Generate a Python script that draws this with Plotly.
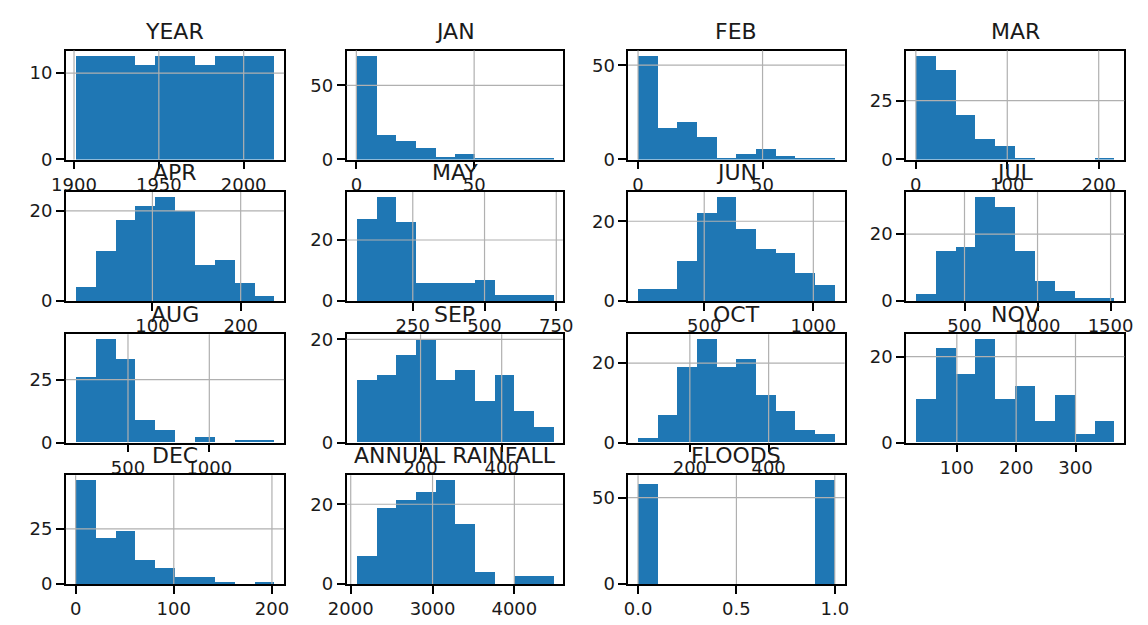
import numpy as np
import plotly.graph_objects as go

# ---- data (10 bins each) ----
columns = ["YEAR", "JAN", "FEB", "MAR", "APR", "MAY", "JUN", "JUL",
           "AUG", "SEP", "OCT", "NOV", "DEC", "ANNUAL RAINFALL", "FLOODS"]

data_min = [1901, 0.0, 0.0, 0.1, 13.1, 53.4, 196.8, 167.5,
            178.6, 41.7, 68.5, 31.1, 0.1, 2068.8, 0.0]
data_max = [2018, 83.5, 79.0, 217.2, 238.0, 738.8, 1098.2, 1526.5,
            1398.9, 526.7, 567.9, 365.6, 202.3, 4473.0, 1.0]

counts_year = [12, 12, 12, 11, 12, 12, 11, 12, 12, 12]
counts_jan = [70, 17, 13, 8, 2, 4, 1, 1, 1, 1]
counts_feb = [55, 17, 20, 12, 1, 3, 6, 2, 1, 1]
counts_mar = [44, 38, 19, 9, 6, 1, 0, 0, 0, 1]
counts_apr = [3, 11, 18, 21, 23, 20, 8, 9, 4, 1]
counts_may = [27, 34, 26, 6, 6, 6, 7, 2, 2, 2]
counts_jun = [3, 3, 10, 22, 26, 18, 13, 12, 7, 4]
counts_jul = [2, 15, 16, 31, 28, 15, 6, 3, 1, 1]
counts_aug = [26, 41, 33, 9, 5, 0, 2, 0, 1, 1]
counts_sep = [12, 13, 17, 20, 12, 14, 8, 13, 6, 3]
counts_oct = [1, 7, 19, 26, 19, 21, 12, 8, 3, 2]
counts_nov = [10, 22, 16, 24, 10, 13, 5, 11, 2, 5]
counts_dec = [47, 21, 24, 11, 7, 3, 3, 1, 0, 1]
counts_annual = [7, 19, 21, 23, 26, 15, 3, 0, 2, 2]
counts_floods = [58, 0, 0, 0, 0, 0, 0, 0, 0, 60]

all_counts = [counts_year, counts_jan, counts_feb, counts_mar, counts_apr,
              counts_may, counts_jun, counts_jul, counts_aug, counts_sep,
              counts_oct, counts_nov, counts_dec, counts_annual, counts_floods]

x_ticks = [[1900, 1950, 2000], [0, 50], [0, 50], [0, 100, 200], [100, 200],
           [250, 500, 750], [500, 1000], [500, 1000, 1500], [500, 1000],
           [200, 400], [200, 400], [100, 200, 300], [0, 100, 200],
           [2000, 3000, 4000], [0.0, 0.5, 1.0]]
x_ticktext = [[str(v) for v in t] for t in x_ticks]
x_ticktext[14] = ["0.0", "0.5", "1.0"]

y_ticks = [[0, 10], [0, 50], [0, 50], [0, 25], [0, 20], [0, 20], [0, 20],
           [0, 20], [0, 25], [0, 20], [0, 20], [0, 20], [0, 25], [0, 20],
           [0, 50]]

# ---- layout geometry (pixels in a 1148x625 page) ----
W, H = 1148, 625
col_px = [(48, 272), (336, 558), (625, 847), (910, 1134)]
row_px = [(46.7, 158.3), (191.7, 303.3), (337.3, 448.3), (481.7, 593.3)]

BLUE = "#1f77b4"
FONT = "DejaVu Sans"

fig = go.Figure()
shapes = []
annotations = []

for i, name in enumerate(columns):
    r, c = divmod(i, 4)
    ax = "" if i == 0 else str(i + 1)
    xa, ya = "x" + ax, "y" + ax
    edges = np.linspace(data_min[i], data_max[i], 11)
    centers = (edges[:-1] + edges[1:]) / 2
    widths = np.diff(edges)
    fig.add_trace(go.Bar(x=centers, y=all_counts[i], width=widths,
                         marker=dict(color=BLUE, line=dict(width=0)),
                         xaxis=xa, yaxis=ya, showlegend=False,
                         hoverinfo="x+y"))
    span = data_max[i] - data_min[i]
    xr = [data_min[i] - 0.05 * span, data_max[i] + 0.05 * span]
    yr = [0, 1.05 * max(all_counts[i])]
    x0, x1 = col_px[c]
    t0, t1 = row_px[r]
    common = dict(showline=True, mirror=True, linecolor="black", linewidth=1.5,
                  ticks="outside", ticklen=8, tickwidth=1.5, tickcolor="black",
                  showgrid=False, zeroline=False,
                  tickfont=dict(family=FONT, size=18, color="#1a1a1a"))
    fig.layout["xaxis" + ax] = dict(domain=[x0 / W, x1 / W], range=xr,
                                    anchor=ya, tickmode="array",
                                    tickvals=x_ticks[i], ticktext=x_ticktext[i],
                                    **common)
    fig.layout["yaxis" + ax] = dict(domain=[1 - t1 / H, 1 - t0 / H], range=yr,
                                    anchor=xa, tickmode="array",
                                    tickvals=y_ticks[i], **common)
    # grid lines drawn above bars (as matplotlib does)
    for v in x_ticks[i]:
        shapes.append(dict(type="line", xref=xa, yref=ya + " domain",
                           x0=v, x1=v, y0=0, y1=1, layer="above",
                           line=dict(color="#b0b0b0", width=1.2)))
    for v in y_ticks[i]:
        if v == 0:
            continue
        shapes.append(dict(type="line", xref=xa + " domain", yref=ya,
                           x0=0, x1=1, y0=v, y1=v, layer="above",
                           line=dict(color="#b0b0b0", width=1.2)))
    annotations.append(dict(text=name, xref="paper", yref="paper",
                            x=(x0 + x1) / 2 / W, y=1 - t0 / H,
                            xanchor="center", yanchor="bottom", yshift=5,
                            showarrow=False,
                            font=dict(family=FONT, size=22, color="#1a1a1a")))

fig.update_layout(width=W, height=H, margin=dict(l=0, r=0, t=0, b=0),
                  paper_bgcolor="white", plot_bgcolor="white",
                  bargap=0, shapes=shapes, annotations=annotations,
                  font=dict(family=FONT))

fig.write_html("out.html")
